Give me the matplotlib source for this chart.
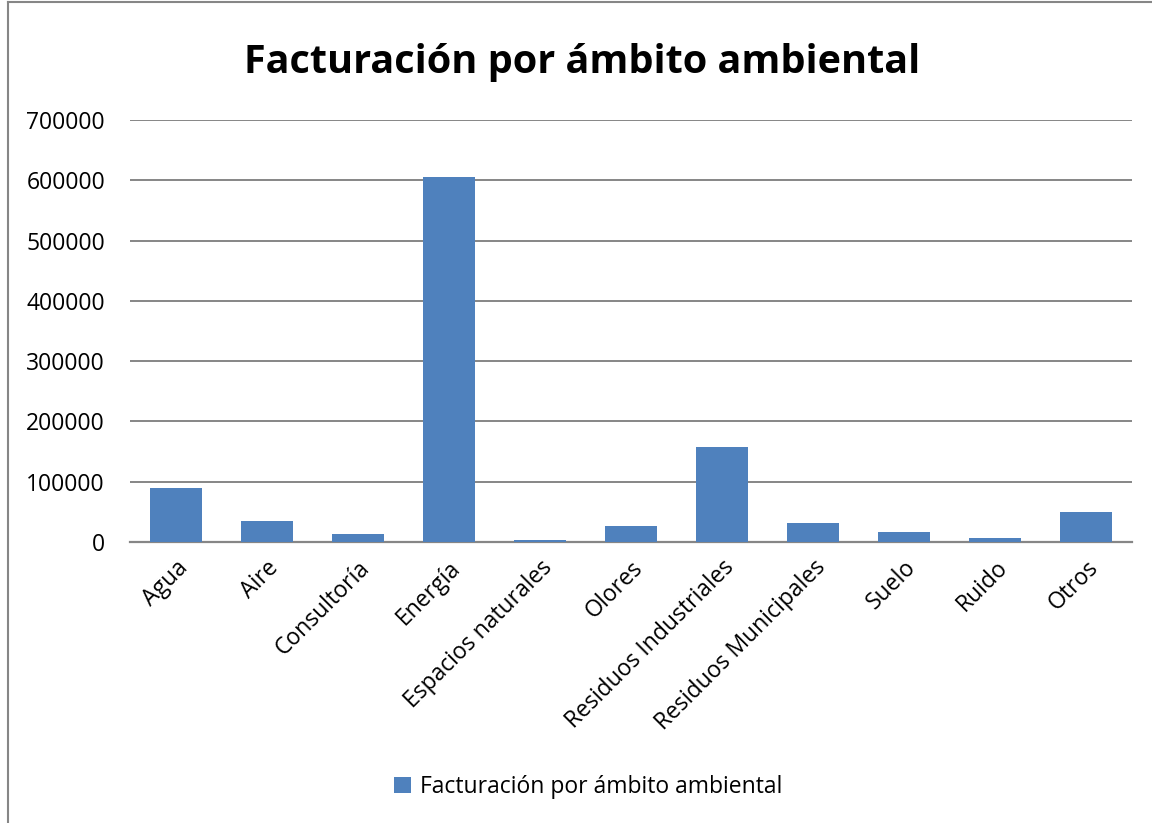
import matplotlib
matplotlib.use("Agg")
import matplotlib.pyplot as plt
from matplotlib.lines import Line2D
from matplotlib.patches import Patch

categories = ["Agua", "Aire", "Consultoría", "Energía", "Espacios naturales", "Olores",
              "Residuos Industriales", "Residuos Municipales", "Suelo", "Ruido", "Otros"]
values = [89500, 34500, 12800, 606000, 2500, 26000, 157800, 31000, 16000, 6000, 49500]
yticks = [0, 100000, 200000, 300000, 400000, 500000, 600000, 700000]
series_name = "Facturación por ámbito ambiental"
title = "Facturación por ámbito ambiental"

plt.rcParams['font.family'] = ['Open Sans', 'DejaVu Sans']
bar_color = "#4F81BD"
grid_color = "#868686"

fig = plt.figure(figsize=(11.52, 8.23), dpi=100)
ax = fig.add_axes([130/1152, 1-542/823, (1132-130)/1152, (542-120)/823])

x = list(range(len(categories)))
ax.bar(x, values, width=0.57, color=bar_color, zorder=3)
ax.set_xlim(-0.5, len(categories)-0.5)
ax.set_ylim(0, 700000)
ax.set_yticks(yticks)
ax.set_yticklabels([str(v) for v in yticks], fontsize=16.5)
ax.set_xticks(x)
ax.set_xticklabels(categories, rotation=45, ha='right', rotation_mode='anchor', fontsize=16.5)
ax.tick_params(axis='y', length=0, pad=18)
ax.tick_params(axis='x', length=0, pad=10)
ax.yaxis.grid(True, color=grid_color, linewidth=1.4, zorder=0)
for s in ['top', 'right', 'left']:
    ax.spines[s].set_visible(False)
ax.spines['bottom'].set_color(grid_color)
ax.spines['bottom'].set_linewidth(1.6)

fig.text(0.5 + 6/1152, 1-62/823, title, ha='center', va='center', fontsize=28.5, fontweight='bold',
         family=['Open Sans', 'DejaVu Sans'])

handles = [Patch(facecolor=bar_color, edgecolor='none')]
fig.legend(handles, [series_name], loc='center', bbox_to_anchor=(0.5 + 12/1152, 1-787/823),
           frameon=False, fontsize=16.5, handlelength=0.75, handleheight=0.75, handletextpad=0.4)

# chart area border (left and top visible)
fig.add_artist(Line2D([8/1152, 8/1152], [0, 1-2/823], transform=fig.transFigure,
                      color=grid_color, linewidth=1.5))
fig.add_artist(Line2D([8/1152, 1], [1-2/823, 1-2/823], transform=fig.transFigure,
                      color=grid_color, linewidth=1.5))

fig.savefig("out.png", dpi=100)
